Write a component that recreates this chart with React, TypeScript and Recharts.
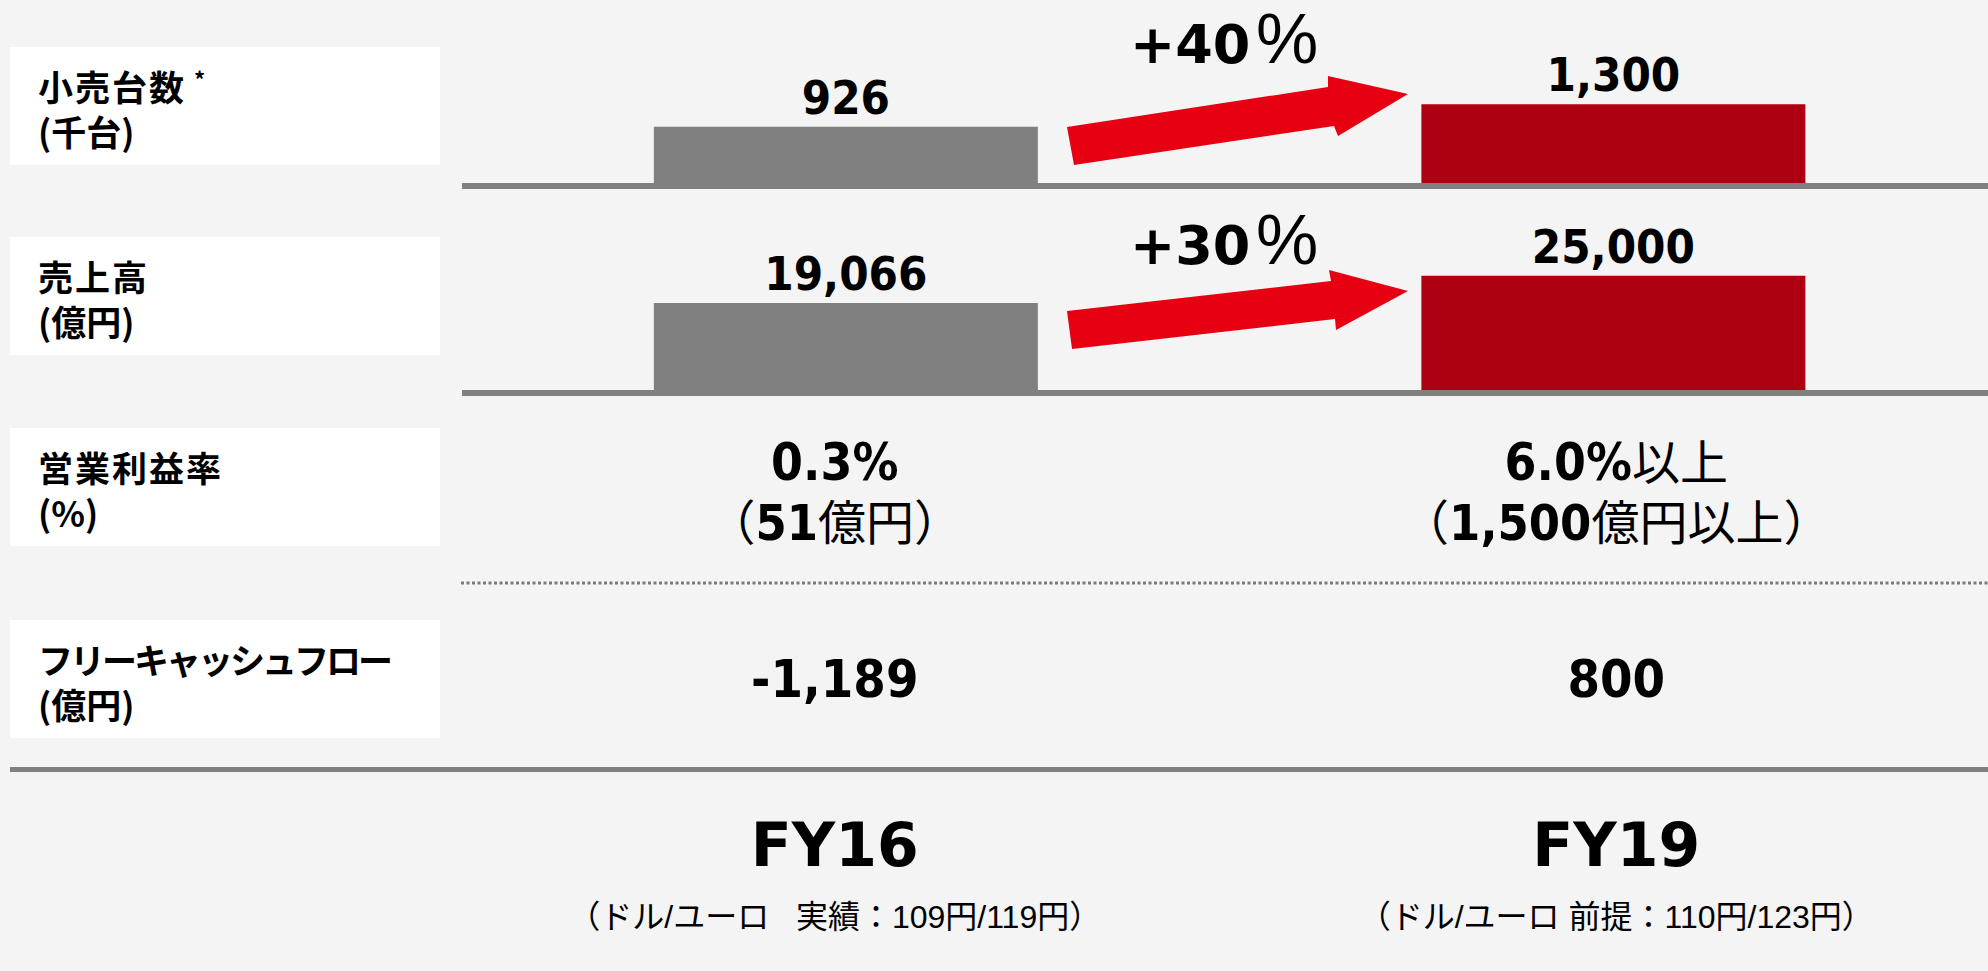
import { BarChart, Bar, XAxis, YAxis, Cell, LabelList } from 'recharts';

// 年度
const years = ['FY16', 'FY19'];
// 小売台数（千台）
const unitSales = [926, 1300];
// 売上高（億円）
const revenue = [19066, 25000];
// 営業利益率（%）と営業利益（億円）
const opMargin = [0.3, 6.0];
const opProfit = [51, 1500];
const targetSuffix = ['', '以上'];
// フリーキャッシュフロー（億円）
const freeCashFlow = [-1189, 800];
// 為替前提
const fxNotes = ['（ドル/ユーロ   実績：109円/119円）', '（ドル/ユーロ 前提：110円/123円）'];
// 伸び率（%）
const growthRates = [40, 30];
// 行見出し
const rowTitles = ['小売台数', '売上高', '営業利益率', 'フリーキャッシュフロー'];
const rowUnits = ['(千台)', '(億円)', '(%)', '(億円)'];

const GRAY = '#808080';
const DARK_RED = '#AE0012';
const ARROW_RED = '#E60012';
const BG = '#f4f4f4';

const NUM_FONT = "'DejaVu Sans', sans-serif";
const CJK_FONT = "'Noto Sans CJK JP', sans-serif";

const boldNum = (size: number) => ({
  fontFamily: NUM_FONT,
  fontWeight: 700,
  fontStretch: 'condensed',
  fontSize: size,
  fill: '#000',
});
const cjk = (size: number) => ({
  fontFamily: CJK_FONT,
  fontWeight: 400,
  fontSize: size,
  fill: '#000',
});

const fmt = (v: number) => v.toLocaleString('en-US');

// 見出しボックスの位置と字間
const boxTops = [47, 237, 428, 620];
const titleSpacing = [2, 2, 2, -3];

// 矢印の形（装飾）
const arrowShapes = [
  '1067,127 1328,87 1328,76 1408,94 1338,136 1334,126 1074,165',
  '1067,311 1331,281 1329,270 1408,291 1336,330 1335,319 1072,349',
];
const growthBaselines = [63, 264];

const BarValue = (props: any) => {
  const { x, y, width, value } = props;
  return (
    <text x={Number(x) + Number(width) / 2} y={Number(y) - 13} textAnchor="middle" style={boldNum(47)}>
      {fmt(value)}
    </text>
  );
};

type RowProps = {
  values: number[];
  domain: [number, number];
  top: number;
  height: number;
  plotTop: number;
};

function RowBars({ values, domain, top, height, plotTop }: RowProps) {
  const data = years.map((fy, i) => ({ fy, value: values[i] }));
  return (
    <div style={{ position: 'absolute', left: 462, top }}>
      <BarChart
        width={1535}
        height={height}
        data={data}
        margin={{ top: plotTop, right: 0, bottom: 0, left: 0 }}
        barCategoryGap="25%"
      >
        <XAxis
          dataKey="fy"
          height={14}
          tick={false}
          tickLine={false}
          axisLine={{ stroke: GRAY, strokeWidth: 6 }}
        />
        <YAxis hide type="number" domain={domain} allowDataOverflow />
        <Bar dataKey="value" isAnimationActive={false}>
          {data.map((d, i) => (
            <Cell key={d.fy} fill={i === 0 ? GRAY : DARK_RED} />
          ))}
          <LabelList dataKey="value" content={BarValue} />
        </Bar>
      </BarChart>
    </div>
  );
}

function YearTick(props: any) {
  const { x, y, payload } = props;
  const i = years.indexOf(payload.value);
  const cx = Number(x);
  const by = Number(y);
  return (
    <g>
      <text x={cx} y={by - 289.5} textAnchor="middle">
        <tspan style={boldNum(51)}>{opMargin[i].toFixed(1)}%</tspan>
        <tspan style={cjk(48)}>{targetSuffix[i]}</tspan>
      </text>
      <text x={cx} y={by - 229.5} textAnchor="middle">
        <tspan style={cjk(48)}>（</tspan>
        <tspan style={boldNum(50)}>{fmt(opProfit[i])}</tspan>
        <tspan style={cjk(48)}>億円{targetSuffix[i]}）</tspan>
      </text>
      <text x={cx} y={by - 72.5} textAnchor="middle" style={boldNum(52)}>
        {fmt(freeCashFlow[i])}
      </text>
      <text
        x={cx}
        y={by + 96.5}
        textAnchor="middle"
        style={{ ...boldNum(60), fontStretch: 'normal' }}
      >
        {years[i]}
      </text>
      <text
        x={cx}
        y={by + 158.5}
        textAnchor="middle"
        style={{
          fontFamily: "'Liberation Sans', 'Noto Sans CJK JP', sans-serif",
          fontSize: 32,
          fill: '#000',
          whiteSpace: 'pre',
        }}
      >
        {fxNotes[i]}
      </text>
    </g>
  );
}

export default function App() {
  const tableData = years.map((fy, i) => ({ fy, fcf: freeCashFlow[i] }));
  return (
    <div
      style={{
        position: 'absolute',
        left: 0,
        top: 0,
        width: 1988,
        height: 971,
        overflow: 'hidden',
        background: BG,
      }}
    >
      {rowTitles.map((title, i) => (
        <div
          key={title}
          style={{
            position: 'absolute',
            left: 10,
            top: boxTops[i],
            width: 430,
            height: 118,
            boxSizing: 'border-box',
            background: '#fff',
            paddingLeft: 28,
            paddingTop: 16,
            fontFamily: CJK_FONT,
            fontWeight: 700,
            fontSize: 35,
            lineHeight: '45px',
            color: '#000',
          }}
        >
          <div style={{ letterSpacing: titleSpacing[i], whiteSpace: 'nowrap' }}>
            {title}
            {i === 0 && (
              <span style={{ fontSize: 22, verticalAlign: 'top', marginLeft: 8, lineHeight: '30px' }}>*</span>
            )}
          </div>
          <div>{rowUnits[i]}</div>
        </div>
      ))}

      <RowBars values={unitSales} domain={[-49.45, 1500]} top={0} height={200} plotTop={92} />
      <RowBars values={revenue} domain={[-658, 30000]} top={200} height={207} plotTop={53} />

      <div style={{ position: 'absolute', left: 10, top: 400 }}>
        <BarChart width={1997} height={571} data={tableData} margin={{ top: 0, right: 0, bottom: 0, left: 0 }}>
          <XAxis
            dataKey="fy"
            height={201.5}
            padding={{ left: 434, right: 0 }}
            interval={0}
            tickLine={false}
            tickSize={0}
            tickMargin={0}
            axisLine={{ stroke: GRAY, strokeWidth: 5 }}
            tick={(p: any) => <YearTick {...p} />}
          />
          <YAxis hide />
          <Bar dataKey="fcf" fill="transparent" isAnimationActive={false} />
        </BarChart>
      </div>

      <svg width={1988} height={971} style={{ position: 'absolute', left: 0, top: 0 }}>
        <line x1={461} y1={583} x2={1988} y2={583} stroke="#7a7a7a" strokeWidth={3} strokeDasharray="3 2.5" />
        {arrowShapes.map((pts) => (
          <polygon key={pts} points={pts} fill={ARROW_RED} />
        ))}
        {growthRates.map((g, i) => (
          <text key={g} x={1130} y={growthBaselines[i]}>
            <tspan style={{ ...boldNum(54), fontStretch: 'normal' }}>+{g}</tspan>
            <tspan
              x={1256}
              style={{ fontFamily: "'Liberation Sans', sans-serif", fontWeight: 400, fontSize: 70, fill: '#000' }}
            >
              %
            </tspan>
          </text>
        ))}
      </svg>
    </div>
  );
}
